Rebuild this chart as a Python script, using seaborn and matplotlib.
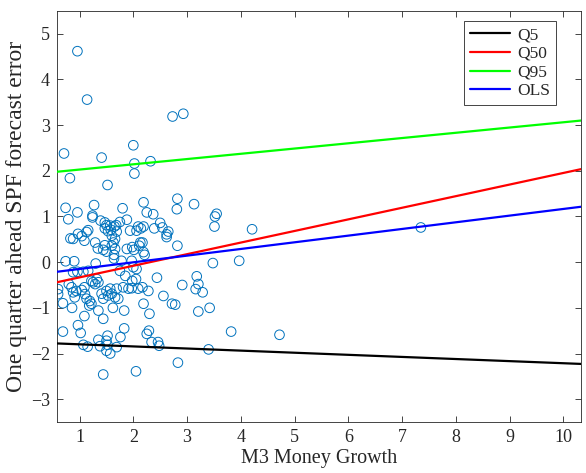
import numpy as np
import pandas as pd
import matplotlib
matplotlib.use("Agg")
import matplotlib.pyplot as plt
import seaborn as sns

# ---- data ----
m3_growth = [
    0.96, 1.14, 2.73, 2.93, 0.71, 2.00, 1.41, 2.02, 2.32, 2.02, 0.82, 1.52, 2.82, 2.19,
    0.74, 0.79, 0.96, 1.27, 1.24, 1.24, 1.80, 1.88, 2.25, 2.37, 2.81, 3.13, 3.55, 3.52, 1.39,
    1.47, 1.50, 1.57, 1.65, 1.68, 1.75, 1.47, 1.53, 2.09, 2.14, 2.19, 2.39, 2.50, 2.54, 2.65,
    1.13, 1.16, 0.97, 3.51, 4.21, 7.35, 1.58, 1.69, 1.94, 2.06, 2.62, 2.62,
    0.83, 1.04, 1.09, 0.88, 1.29, 1.34, 1.44, 1.50, 1.47, 1.60, 1.63, 1.66, 1.60, 1.66,
    1.88, 1.98, 2.01, 2.17, 2.13, 2.11, 2.19, 2.21, 2.82, 1.64, 1.64,
    0.74, 0.90, 1.30, 1.78, 1.97, 2.00, 2.06, 3.48, 3.97, 0.88, 0.96, 1.07, 1.16, 1.75, 1.85,
    2.44, 2.05, 1.98, 3.18, 3.21, 0.80, 0.85, 1.09, 1.22, 1.25, 1.29, 1.32, 1.35, 2.91,
    1.81, 1.91, 1.97, 2.09, 2.17, 1.57, 1.69, 0.60, 3.16,
    0.60, 0.88, 0.94, 1.04, 1.10, 1.13, 0.91, 1.41, 1.50, 1.53, 1.44, 1.60, 1.66, 1.72,
    2.28, 2.56, 3.29, 1.19, 1.22, 1.18, 0.69, 0.86, 2.19, 2.72, 2.78, 2.30, 3.42, 3.21,
    1.62, 1.83, 1.35, 1.09, 1.44,
    0.69, 0.97, 1.02, 1.07, 1.15, 1.35, 1.38, 1.52, 1.50, 1.52, 1.57, 1.50, 1.69, 1.76,
    1.83, 2.25, 2.29, 2.34, 2.46, 2.48, 2.83, 1.44, 2.05, 3.82, 4.72, 3.40,
]
spf_error = [
    4.62, 3.56, 3.19, 3.25, 2.38, 2.56, 2.29, 2.16, 2.21, 1.94, 1.84, 1.69, 1.39, 1.31,
    1.19, 0.94, 1.09, 1.25, 1.02, 0.98, 1.18, 0.93, 1.09, 1.05, 1.16, 1.27, 1.06, 1.00, 0.91,
    0.87, 0.81, 0.80, 0.78, 0.81, 0.88, 0.74, 0.68, 0.78, 0.74, 0.78, 0.74, 0.86, 0.76, 0.67,
    0.66, 0.70, 0.62, 0.78, 0.72, 0.76, 0.71, 0.67, 0.69, 0.69, 0.61, 0.55,
    0.52, 0.57, 0.47, 0.51, 0.43, 0.30, 0.27, 0.23, 0.37, 0.58, 0.43, 0.51, 0.36, 0.29,
    0.29, 0.33, 0.27, 0.43, 0.43, 0.36, 0.22, 0.16, 0.36, 0.16, 0.08,
    0.02, 0.02, -0.03, 0.03, 0.03, -0.11, -0.15, -0.02, 0.03, -0.22, -0.21, -0.21, -0.19, -0.19, -0.30,
    -0.34, -0.37, -0.41, -0.31, -0.48, -0.48, -0.55, -0.55, -0.41, -0.44, -0.48, -0.37, -0.44, -0.50,
    -0.55, -0.58, -0.57, -0.58, -0.55, -0.58, -0.58, -0.59, -0.59,
    -0.70, -0.66, -0.63, -0.61, -0.70, -0.80, -0.77, -0.69, -0.63, -0.73, -0.80, -0.69, -0.77, -0.80,
    -0.63, -0.74, -0.66, -0.85, -0.91, -0.95, -0.90, -1.00, -0.91, -0.91, -0.93, -1.13, -1.00, -1.08,
    -1.00, -1.06, -1.06, -1.18, -1.24,
    -1.52, -1.38, -1.55, -1.81, -1.85, -1.70, -1.84, -1.61, -1.72, -1.81, -2.00, -1.94, -1.86, -1.64,
    -1.45, -1.57, -1.50, -1.75, -1.75, -1.83, -2.20, -2.46, -2.39, -1.52, -1.59, -1.91,
]

line_names = ["Q5", "Q50", "Q95", "OLS"]
intercepts = [-1.753, -0.587, 1.913, -0.295]
slopes = [-0.046, 0.254, 0.115, 0.146]
line_colors = ["#000000", "#ff0000", "#00ff00", "#0000ff"]

x_limits = [0.58, 10.33]
x_ticks = [1, 2, 3, 4, 5, 6, 7, 8, 9, 10]
y_ticks = [-3, -2, -1, 0, 1, 2, 3, 4, 5]

# ---- build tables ----
pts = pd.DataFrame({"x": m3_growth, "y": spf_error})
rows = []
for name, a, b in zip(line_names, intercepts, slopes):
    for xv in x_limits:
        rows.append({"x": xv, "y": a + b * xv, "model": name})
lines = pd.DataFrame(rows)

sns.set_theme(style="white")
plt.rcParams["font.family"] = ["Liberation Serif", "DejaVu Serif"]

fig = plt.figure(figsize=(5.86, 4.73), dpi=100)
ax = fig.add_axes([57 / 586, 1 - 422 / 473, 524 / 586, 411 / 473])

sns.scatterplot(data=pts, x="x", y="y", ax=ax, marker="o", s=48,
                facecolors="none", edgecolor="#0072BD", linewidth=0.7,
                legend=False, zorder=2)
sns.lineplot(data=lines, x="x", y="y", hue="model", hue_order=line_names,
             palette=line_colors, ax=ax, linewidth=1.6, zorder=3,
             estimator=None, sort=False)

ax.set_xlim(*x_limits)
ax.set_ylim(-3.5, 5.5)
ax.set_xticks(x_ticks)
ax.set_yticks(y_ticks)
ax.set_xlabel("M3 Money Growth", fontsize=14.5, color="#262626", labelpad=2)
ax.set_ylabel("One quarter ahead SPF forecast error", fontsize=17, color="#262626", labelpad=3)

for sp in ax.spines.values():
    sp.set_color("#262626")
    sp.set_linewidth(0.6)
    sp.set_visible(True)
ax.tick_params(axis="both", direction="in", length=4, width=0.6, color="#262626",
               labelsize=13, labelcolor="#262626", top=True, right=True,
               bottom=True, left=True, pad=5)

leg = ax.legend(loc="upper right", bbox_to_anchor=(0.952, 0.976), fontsize=12.5,
                frameon=True, fancybox=False, edgecolor="#262626", framealpha=1,
                handlelength=2.3, labelspacing=0.15, borderpad=0.35, handletextpad=0.4,
                borderaxespad=0)
leg.get_frame().set_linewidth(0.6)

fig.savefig("out.png", dpi=100)
